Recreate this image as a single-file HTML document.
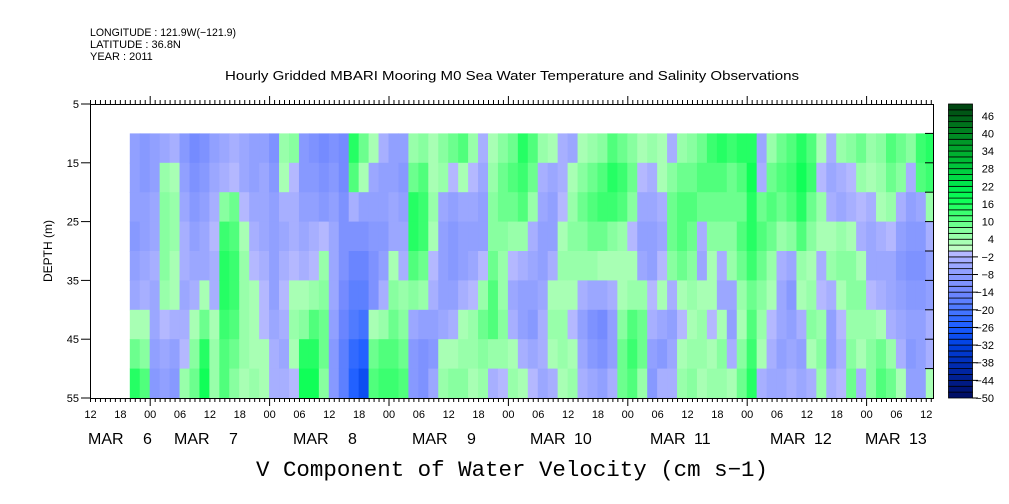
<!DOCTYPE html>
<html><head><meta charset="utf-8"><style>
html,body{margin:0;padding:0;background:#fff;}
svg{display:block;font-family:"Liberation Sans",sans-serif;}
</style></head><body>
<svg id="chart" width="1009" height="504" viewBox="0 0 1009 504" xmlns="http://www.w3.org/2000/svg">
<text x="90" y="36" font-size="11" textLength="146" lengthAdjust="spacingAndGlyphs">LONGITUDE : 121.9W(−121.9)</text>
<text x="90" y="48" font-size="11">LATITUDE : 36.8N</text>
<text x="90" y="60" font-size="11">YEAR : 2011</text>
<text x="512" y="80" font-size="12.5" text-anchor="middle" textLength="574" lengthAdjust="spacingAndGlyphs">Hourly Gridded MBARI Mooring M0 Sea Water Temperature and Salinity Observations</text>
<defs><clipPath id="pc"><rect x="90" y="104" width="843" height="294"/></clipPath></defs>
<g id="cells" clip-path="url(#pc)"></g>
<g id="axes"></g>
<g id="cbar"></g>
<text x="0" y="0" font-size="12" text-anchor="middle" transform="translate(52,251) rotate(-90)">DEPTH (m)</text>
<text x="512" y="476" font-size="22" font-family="Liberation Mono, monospace" text-anchor="middle" textLength="512" lengthAdjust="spacingAndGlyphs">V Component of Water Velocity (cm s−1)</text>
</svg>
<script>
// depth band edges (m)
const depthEdges = [10,15,20,25,30,35,40,45,50,55];
// first column start: hours after MAR 5 12:00; column step 2 h
const colStartHour = 8;
const colStepHour = 2;
const yTickLabels = ["5","15","25","35","45","55"];
const yTickValues = [5,15,25,35,45,55];
const hourLabels = ["12","18","00","06"];
const dayNums = ["6","7","8","9","10","11","12","13"];
const cbarLabels = [46,40,34,28,22,16,10,4,-2,-8,-14,-20,-26,-32,-38,-44,-50];
// V component values (cm/s), columns over time, rows over depth (10-15 ... 50-55 m)
const vals = [
[-8,-8,-8,-10,-8,-6,2,8,14],[-10,-10,-8,-8,-6,-4,2,6,10],[-8,-8,-6,-6,-4,-6,-6,-8,-10],[-6,4,6,6,6,4,-2,-6,-8],
[-4,2,4,4,2,2,-4,-8,-10],[-10,-8,-6,-4,-4,-6,-4,-2,4],[-14,-12,-10,-8,-6,-4,2,6,8],[-12,-10,-8,-6,-6,2,8,14,16],
[-8,-6,-4,-2,-4,-4,2,4,4],[-6,-4,6,12,14,14,12,10,10],[-4,-2,8,10,12,12,10,8,6],[-6,-6,-2,2,4,4,4,4,2],
[-8,-8,-6,-4,-2,2,2,2,4],[-8,-6,-6,-6,-4,-2,-2,2,2],[-12,-10,-8,-8,-8,-8,-6,-4,-4],[4,2,-4,-6,-4,-2,-4,-6,-4],
[6,-2,-4,-4,-2,2,4,2,-2],[-10,-10,-8,-6,-4,2,6,14,16],[-12,-10,-8,-4,-2,4,10,14,16],[-14,-12,-10,-2,4,6,8,8,6],
[-12,-10,-8,-6,-6,-6,-8,-10,-10],[-14,-14,-12,-12,-12,-14,-16,-18,-18],[14,10,-4,-12,-16,-18,-20,-24,-26],[8,2,-8,-12,-16,-18,-22,-26,-30],
[2,-6,-8,-10,-12,-12,2,8,10],[-4,-8,-8,-10,-8,-4,4,10,12],[-8,-8,-6,-6,2,6,8,10,12],[-8,-10,-8,-6,-4,4,6,8,10],
[4,8,14,14,10,6,-6,-10,-10],[6,10,12,12,8,4,-8,-12,-12],[2,2,4,2,-2,-4,-8,-10,-6],[6,4,-6,-8,-8,-8,-6,2,4],
[8,-2,-8,-10,-10,-8,-4,2,6],[10,2,-6,-8,-8,-4,2,4,6],[4,-2,-6,-8,-6,-2,4,4,2],[-4,-6,-8,-8,-2,4,8,6,4],
[2,4,6,6,8,10,10,4,-4],[6,8,8,6,4,4,6,4,-2],[8,10,8,4,-2,-6,-4,2,4],[14,12,10,4,-4,-8,-8,-4,2],
[10,8,4,-4,-6,-8,-10,-6,-2],[4,-4,-6,-8,-8,-6,-4,-4,-6],[2,-6,-8,-8,-4,2,4,2,-4],[-4,-4,-2,2,4,2,4,4,2],
[-6,2,4,6,4,2,-2,2,4],[2,6,8,6,4,-4,-8,-6,-4],[4,8,10,8,4,-6,-12,-10,-6],[6,10,12,8,2,-6,-14,-12,-8],
[10,14,12,6,2,-4,-8,-8,-4],[8,12,10,4,2,2,6,8,8],[6,8,6,-2,2,4,10,12,10],[2,-2,-6,-8,-6,4,8,8,4],
[4,-4,-6,-8,-8,-2,-4,-8,-10],[2,2,-4,-6,-2,2,-6,-10,-4],[-4,6,8,8,6,-4,-8,-6,-4],[4,8,10,10,8,2,-2,2,4],
[6,8,10,8,6,4,2,4,6],[8,10,8,-4,-6,2,4,4,2],[12,10,8,6,2,2,-2,2,4],[14,10,8,6,-4,-6,2,6,4],
[12,8,8,6,4,-6,-8,-4,2],[14,10,8,10,8,4,2,6,8],[14,16,14,14,12,8,10,12,14],[-6,-4,8,10,8,6,4,2,-4],
[4,8,10,8,4,2,-2,-4,-6],[8,10,8,4,-4,-6,-6,-8,-6],[10,12,10,6,-6,-10,-8,-6,-4],[14,16,14,10,4,2,-4,-8,-6],
[10,12,8,6,2,4,6,2,-4],[2,-2,4,2,-4,-2,4,6,4],[-4,-6,-4,2,4,-4,-8,-8,-4],[4,-4,-6,4,6,2,-2,-4,-2],
[6,-2,-4,2,6,6,4,6,8],[8,4,-2,-4,2,6,4,2,-4],[4,2,-4,-6,-6,-2,4,6,6],[6,4,2,-4,-6,-4,2,8,10],
[10,8,4,-2,-6,-6,-4,4,8],[8,6,-4,-8,-10,-8,-6,-4,2],[6,-4,-8,-10,-12,-10,-8,-10,-8],[12,10,-6,-10,-12,-10,-8,-8,-8],
[14,12,4,-4,-8,-8,-4,-4,2]
];

const NS="http://www.w3.org/2000/svg";
const X0=90, PX_PER_H=4.975, Y0=104, PX_PER_M=294/50;
function xs(h){return X0+h*PX_PER_H;}
function ys(d){return Y0+(d-5)*PX_PER_M;}
function hex(c){return [1,3,5].map(i=>parseInt(c.substr(i,2),16));}
function mix(a,b,t){const A=hex(a),B=hex(b);return 'rgb('+A.map((v,i)=>Math.round(v+(B[i]-v)*t)).join(',')+')';}
const stops=[[-50,'#000c60'],[-40,'#0028a8'],[-32,'#0040e0'],[-26,'#1a5cff'],[-20,'#4a78ff'],[-14,'#7088ff'],[-8,'#8c9cff'],[-4,'#a0aaff'],[-1,'#b4b8ff'],[1,'#c0ffc4'],[3,'#a8ffb4'],[7,'#88ffa0'],[11,'#50ff7c'],[17,'#10ff58'],[21,'#00f050'],[27,'#00d040'],[33,'#00b030'],[41,'#008020'],[50,'#004010']];
function colorFor(v){
  const lv=Math.max(-50,Math.min(48,Math.floor(v/2)*2))+1;
  for(let i=0;i<stops.length-1;i++){if(lv<=stops[i+1][0]){return mix(stops[i][1],stops[i+1][1],(lv-stops[i][0])/(stops[i+1][0]-stops[i][0]));}}
  return stops[stops.length-1][1];
}
function mk(tag,attrs,parent){const e=document.createElementNS(NS,tag);for(const k in attrs)e.setAttribute(k,attrs[k]);parent.appendChild(e);return e;}

const cells=document.getElementById('cells');
vals.forEach((col,i)=>{
  const h0=colStartHour+i*colStepHour;
  col.forEach((v,r)=>{
    const x=xs(h0), y=ys(depthEdges[r]);
    const el=mk('rect',{x:x.toFixed(2),y:y.toFixed(2),width:(PX_PER_H*colStepHour+0.6).toFixed(2),height:(ys(depthEdges[r+1])-y+0.6).toFixed(2),fill:colorFor(v)},cells);
    
    
  });
});

const ax=document.getElementById('axes');
const frame=mk('rect',{x:90.5,y:104.5,width:843,height:294,fill:'none',stroke:'#000','stroke-width':1},ax);


yTickValues.forEach((d,i)=>{
  const y=ys(d);
  mk('line',{x1:81,x2:90,y1:y,y2:y,stroke:'#000'},ax);
  const t=mk('text',{x:79,y:y+4,'font-size':11,'text-anchor':'end'},ax);
  t.textContent=yTickLabels[i];
  
  
});
for(let d=10;d<55;d+=5){const y=ys(d);mk('line',{x1:925,x2:933,y1:y,y2:y,stroke:'#000'},ax);}
for(let h=0;h*PX_PER_H<=843.5;h++){
  const x=xs(h)+0.5;const major=((h+12)%24===0);
  mk('line',{x1:x,x2:x,y1:104,y2:major?96:100,stroke:'#000'},ax);
  mk('line',{x1:x,x2:x,y1:398,y2:major?406:402,stroke:'#000'},ax);
  if(h%6===0){
    const t=mk('text',{x:x,y:418,'font-size':11,'text-anchor':'middle'},ax);
    t.textContent=hourLabels[(h/6)%4];
    
    
  }
}
const dayX=[88,174,293,412,530,650,770,865];
dayNums.forEach((s,i)=>{
  const m=mk('text',{x:dayX[i],y:444,'font-size':16},ax);
  m.textContent='MAR';
  
  
  const n=mk('text',{x:dayX[i]+(s.length>1?44:55),y:444,'font-size':16},ax);
  n.textContent=s;
  
  
});
const cb=document.getElementById('cbar');
for(let k=0;k<50;k++){
  const lo=-50+2*k;const y=398-(k+1)*5.88;
  const r=mk('rect',{x:948.5,y:y.toFixed(2),width:24,height:5.88,fill:colorFor(lo+1),stroke:'#000','stroke-width':0.8},cb);
  
  
}
cbarLabels.forEach(v=>{
  const y=104+(50-v)*2.94;
  if(v<0) mk('line',{x1:972,x2:978,y1:y,y2:y,stroke:'#000'},cb);
  const t=mk('text',{x:994,y:y+4,'font-size':11,'text-anchor':'end'},cb);
  t.textContent=v<0?'−'+(-v):String(v);
  
  
});
</script>
</body></html>
